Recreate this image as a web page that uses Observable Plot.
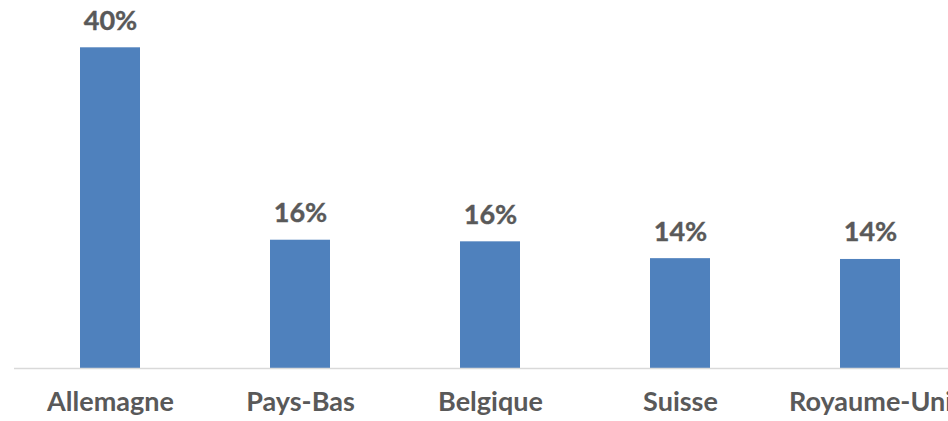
<!DOCTYPE html>
<html>
<head>
<meta charset="utf-8">
<script src="https://cdn.jsdelivr.net/npm/d3@7"></script>
<script src="https://cdn.jsdelivr.net/npm/@observablehq/plot@0.6"></script>
<style>
  html, body { margin: 0; padding: 0; background: #fff; overflow: hidden; }
</style>
</head>
<body>
<div id="chart"></div>
<script>
const countries = ["Allemagne", "Pays-Bas", "Belgique", "Suisse", "Royaume-Uni"];
const shares = [40, 16.0, 15.8, 13.7, 13.6];
const labels = ["40%", "16%", "16%", "14%", "14%"];

const data = countries.map((c, i) => ({country: c, value: shares[i], label: labels[i]}));

const font = "Lato, 'Open Sans', sans-serif";
const textColor = "#595959";

const chart = Plot.plot({
  width: 948,
  height: 421,
  marginLeft: 14,
  marginRight: 0,
  marginTop: 0,
  marginBottom: 53,
  style: {fontFamily: font, background: "#fff", overflow: "hidden"},
  x: {domain: countries, range: [14.2, 965.2], paddingInner: 0.6845, paddingOuter: 0.342, align: 0.5},
  y: {domain: [0, 40], range: [368, 47.3], axis: null},
  marks: [
    Plot.barY(data, {x: "country", y: "value", fill: "#4F81BD"}),
    Plot.ruleY([0], {stroke: "#D9D9D9", strokeWidth: 1.5}),
    Plot.text(data, {x: "country", y: "value", text: "label", dy: -18, lineAnchor: "bottom",
      fill: textColor, fontSize: 27, fontWeight: "bold", fontFamily: font, stroke: textColor, strokeWidth: 0.4}),
    Plot.axisX({tickSize: 0, tickPadding: 23, fontSize: 27, fontWeight: "bold", fill: textColor, stroke: textColor, strokeWidth: 0.4, label: null, fontFamily: font})
  ]
});
document.getElementById("chart").appendChild(chart);
</script>
</body>
</html>
